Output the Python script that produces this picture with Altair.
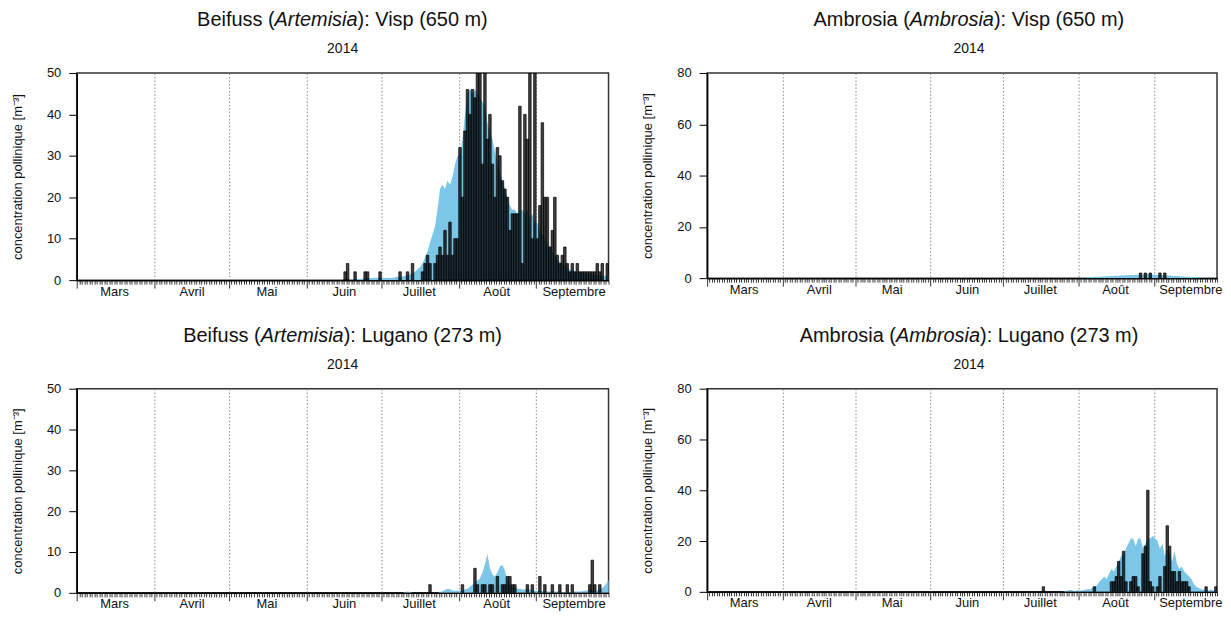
import altair as alt
import pandas as pd

# ---------------- data (daily values, 2014) ----------------
MONTHS_FR = ["Janvier", "Février", "Mars", "Avril", "Mai", "Juin", "Juillet",
             "Août", "Septembre", "Octobre", "Novembre", "Décembre"]
YEAR_LABEL = "2014"
Y_TITLE = "concentration pollinique [m⁻³]"

# Beifuss (Artemisia) Visp - observed daily values from 1 June
visp_art_bar_start = "2014-06-01"
visp_art_bar_jun = [0] * 15 + [2, 4, 0, 0, 2, 0, 0, 0, 2, 2, 0, 0, 0, 0, 2]
visp_art_bar_jul = [0, 0, 0, 0, 0, 0, 0, 2, 0, 0, 2, 0, 4, 0, 0, 0, 2, 4, 6, 4,
                    0, 4, 6, 8, 6, 12, 6, 14, 6, 10, 10]
visp_art_bar_aug = [32, 20, 36, 46, 40, 46, 44, 54, 54, 28, 54, 34, 40, 28, 20,
                    32, 30, 24, 22, 20, 12, 16, 16, 16, 42, 4, 40, 34, 54, 10, 54]
visp_art_bar_sep = [10, 18, 38, 20, 20, 8, 12, 20, 6, 4, 6, 8, 4, 2, 4,
                    2, 4, 2, 2, 2, 2, 2, 2, 2, 4, 2, 4, 0, 4, 4]
# Beifuss Visp - mean (blue) from 1 June
visp_art_mean_start = "2014-06-01"
visp_art_mean_jun = [0] * 18 + [0.2, 0.3, 0.3, 0.3, 0.4, 0.4, 0.5, 0.5, 0.5, 0.6, 0.6, 0.6]
visp_art_mean_jul = [0.6, 0.5, 0.6, 0.5, 0.6, 0.7, 0.8, 0.8, 0.9, 1.0, 1.2, 1.4, 1.6, 2.0,
                     2.6, 3.2, 4.0, 5.5, 7.0, 9.0, 11, 13, 17, 22, 23, 22, 24, 23, 25, 28, 30]
visp_art_mean_aug = [30, 34, 40, 45, 46, 45, 46, 45, 44, 43, 42, 38, 36, 34, 31, 28,
                     26, 24, 22, 20, 18, 17, 17, 16, 17, 17, 16, 17, 15, 16, 14]
visp_art_mean_sep = [14, 12, 11, 10, 9, 8, 7, 6, 5, 4.5, 4, 3.5, 3, 2.5, 2.5, 2, 2, 2,
                     1.8, 1.6, 1.5, 1.5, 1.4, 1.3, 1.2, 1.2, 1.0, 1.0, 1.2, 1.3]

# Beifuss (Artemisia) Lugano - observed from 1 July
lug_art_bar_start = "2014-07-01"
lug_art_bar_jul = [0] * 19 + [2] + [0] * 11
lug_art_bar_aug = [0, 2, 0, 0, 0, 0, 6, 2, 0, 2, 2, 0, 2, 2, 0, 4, 0, 2, 2, 4,
                   4, 2, 2, 0, 0, 0, 0, 2, 0, 2, 0]
lug_art_bar_sep = [0, 4, 0, 2, 0, 0, 2, 0, 0, 2, 0, 0, 2, 0, 2, 0, 0, 0, 0, 0,
                   0, 2, 8, 2, 0, 2, 0, 0, 0, 0]
lug_art_mean_start = "2014-07-01"
lug_art_mean_jul = [0, 0, 0, 0, 0, 0, 0, 0, 0, 0.2, 0.3, 0.2, 0, 0, 0, 0, 0, 0, 0, 0,
                    0, 0, 0, 0.2, 0.4, 0.7, 1.0, 0.9, 0.6, 0.5, 0.5]
lug_art_mean_aug = [0.5, 0.5, 0.8, 1.0, 1.5, 2.0, 2.5, 3.0, 3.5, 5.0, 7.0, 9.5, 6.0,
                    4.5, 4.0, 5.0, 6.5, 6.8, 5.5, 3.0, 2.0, 1.5, 1.2, 1.0, 1.0, 0.8,
                    0.8, 1.0, 0.8, 0.6, 0.5]
lug_art_mean_sep = [0.5, 0.5, 0.4, 0.4, 0.3, 0.3, 0.3, 0.3, 0.3, 0.3, 0.2, 0.2, 0.2,
                    0.2, 0.2, 0.3, 0.3, 0.3, 0.4, 0.5, 0.6, 0.7, 0.6, 0.5, 0.6, 0.8,
                    1.2, 1.8, 2.6, 3.4]

# Ambrosia Visp - observed from 1 August
visp_amb_bar_start = "2014-08-01"
visp_amb_bar_aug = [0] * 25 + [2, 0, 2, 0, 2, 0]
visp_amb_bar_sep = [0, 0, 2, 0, 2] + [0] * 25
visp_amb_mean_start = "2014-08-01"
visp_amb_mean_aug = [0.2, 0.2, 0.3, 0.3, 0.4, 0.4, 0.5, 0.5, 0.5, 0.6, 0.6, 0.7, 0.7,
                     0.8, 0.8, 0.9, 0.9, 1.0, 1.0, 1.1, 1.1, 1.2, 1.2, 1.3, 1.3, 1.4,
                     1.4, 1.5, 1.5, 1.4, 1.4]
visp_amb_mean_sep = [1.3, 1.3, 1.2, 1.2, 1.1, 1.0, 1.0, 0.9, 0.8, 0.8, 0.7, 0.6, 0.6,
                     0.5, 0.5, 0.4, 0.4, 0.3, 0.3, 0.2, 0.2, 0.1, 0.1, 0.1, 0, 0, 0, 0, 0, 0]

# Ambrosia Lugano - observed from 1 July
lug_amb_bar_start = "2014-07-01"
lug_amb_bar_jul = [0] * 16 + [2] + [0] * 14
lug_amb_bar_aug = [0, 0, 0, 0, 0, 0, 2, 0, 0, 0, 0, 0, 0, 4, 4, 6, 12, 6, 16, 4,
                   0, 4, 6, 6, 2, 0, 15, 18, 40, 4, 2]
lug_amb_bar_sep = [0, 2, 6, 0, 10, 26, 18, 8, 8, 4, 8, 4, 4, 4, 2, 0, 0, 0, 0, 0,
                   0, 2, 0, 0, 0, 2, 0, 0, 0, 0]
lug_amb_mean_start = "2014-07-01"
lug_amb_mean_jul = [0] * 25 + [0.3, 0.5, 0.8, 0.5, 0.3, 0.5]
lug_amb_mean_aug = [0.5, 0.5, 0.8, 1, 1, 1.5, 2, 2.5, 4, 5, 6, 5, 7, 9, 8, 10, 12,
                    14, 15, 17, 19, 21, 21, 18, 21, 21, 17, 19, 21, 21, 22]
lug_amb_mean_sep = [21, 20, 17, 19, 14, 17, 15, 12, 16, 11, 9, 10, 8, 7, 6, 5, 3, 2,
                    1.5, 1, 0.8, 1, 0.5, 1, 0.5, 0.5, 0.3, 0.3, 0.2, 0.2]

# ---------------- styling helpers ----------------
FONT = "Liberation Sans"
BLUE = "#7cc6e8"
TXT = "#111111"
ARIAL_W = {"A": 667, "B": 667, "L": 556, "V": 667, "a": 556, "b": 556, "e": 556,
           "f": 278, "g": 556, "i": 222, "m": 833, "n": 556, "o": 556, "p": 556,
           "r": 333, "s": 500, "t": 278, "u": 556, "(": 333, ")": 333, ":": 278,
           " ": 278}


def text_width(s, size):
    return sum(ARIAL_W.get(ch, 556) for ch in s) * size / 1000.0


MONTH_EXPR = ("date(datum.value) == 16 ? ["
              + ",".join("'" + m + "'" for m in MONTHS_FR)
              + "][month(datum.value)] : ''")


def daily(start, values, shift_hours=0):
    dates = pd.date_range(start, periods=len(values), freq="D") + pd.Timedelta(hours=shift_hours)
    return pd.DataFrame({"date": dates, "value": values})


def text_layer(s, x, y, size, align="center", style="normal"):
    return alt.Chart(pd.DataFrame({"t": [s]})).mark_text(
        font=FONT, fontSize=size, align=align, baseline="middle",
        fontStyle=style, color=TXT
    ).encode(text="t:N", x=alt.value(x), y=alt.value(y))


def panel(species, latin, site, bar_start, bars, mean_start, mean, ymax, ystep,
          width, height, end_day, title_cx):
    bdf = daily(bar_start, bars)
    bdf["end"] = bdf["date"] + pd.Timedelta(days=1)
    bdf["base"] = 0
    bdf = bdf[bdf["value"] > 0]
    adf = daily(mean_start, mean, 12)

    x_axis = alt.Axis(
        tickCount={"interval": "day", "step": 1},
        tickSize={"condition": {"test": "date(datum.value) == 1", "value": 8}, "value": 4},
        tickColor="black", tickWidth=0.8,
        domainColor="black", domainWidth=1.5,
        grid=True, gridColor="#888888", gridDash=[1.5, 2], gridWidth=1,
        gridOpacity={"condition": {"test": "date(datum.value) == 1", "value": 1}, "value": 0},
        labelExpr=MONTH_EXPR, labelOverlap=False, labelFlush=False,
        labelFont=FONT, labelFontSize=13, labelColor=TXT, labelPadding=1,
        title=None)
    y_axis = alt.Axis(
        values=list(range(0, ymax + 1, ystep)), tickSize=8, tickColor="black",
        tickWidth=1, domainColor="black", domainWidth=1.5, grid=False,
        labelFont=FONT, labelFontSize=13, labelColor=TXT, labelPadding=8,
        title=Y_TITLE, titleFont=FONT, titleFontSize=13, titleFontWeight="normal",
        titleColor=TXT, titlePadding=22)
    xs = alt.Scale(domain=[alt.DateTime(year=2014, month=3, date=1),
                           alt.DateTime(year=2014, month=9, date=end_day)])
    ys = alt.Scale(domain=[0, ymax], nice=False)

    area_l = alt.Chart(adf).mark_area(color=BLUE, clip=True, interpolate="linear").encode(
        x=alt.X("date:T", scale=xs, axis=x_axis),
        y=alt.Y("value:Q", scale=ys, axis=y_axis, stack=None))
    bar_l = alt.Chart(bdf).mark_bar(
        color="black", fillOpacity=0.75, stroke="black", strokeWidth=0.7, clip=True
    ).encode(x="date:T", x2="end:T", y=alt.Y("value:Q", stack=None), y2="base:Q")

    size = 20
    p1 = species + " ("
    p3 = "): " + site
    total = text_width(p1, size) + text_width(latin, size) + text_width(p3, size)
    xa = title_cx - total / 2 + text_width(p1, size)
    xb = xa + text_width(latin, size)
    layers = [
        area_l, bar_l,
        text_layer(p1, xa, -53, size, align="right"),
        text_layer(latin, xa, -53, size, align="left", style="italic"),
        text_layer(p3, xb, -53, size, align="left"),
        text_layer(YEAR_LABEL, title_cx, -24, 14),
    ]
    return alt.layer(*layers).properties(width=width, height=height)


tl = panel("Beifuss", "Artemisia", "Visp (650 m)", visp_art_bar_start,
           visp_art_bar_jun + visp_art_bar_jul + visp_art_bar_aug + visp_art_bar_sep,
           visp_art_mean_start,
           visp_art_mean_jun + visp_art_mean_jul + visp_art_mean_aug + visp_art_mean_sep,
           50, 10, 534, 208, 30, 267)
bl = panel("Beifuss", "Artemisia", "Lugano (273 m)", lug_art_bar_start,
           lug_art_bar_jul + lug_art_bar_aug + lug_art_bar_sep,
           lug_art_mean_start, lug_art_mean_jul + lug_art_mean_aug + lug_art_mean_sep,
           50, 10, 534, 205, 30, 267)
tr = panel("Ambrosia", "Ambrosia", "Visp (650 m)", visp_amb_bar_start,
           visp_amb_bar_aug + visp_amb_bar_sep,
           visp_amb_mean_start, visp_amb_mean_aug + visp_amb_mean_sep,
           80, 20, 512, 206, 27, 263)
br = panel("Ambrosia", "Ambrosia", "Lugano (273 m)", lug_amb_bar_start,
           lug_amb_bar_jul + lug_amb_bar_aug + lug_amb_bar_sep,
           lug_amb_mean_start, lug_amb_mean_jul + lug_amb_mean_aug + lug_amb_mean_sep,
           80, 20, 512, 204, 27, 263)

chart = alt.hconcat(
    alt.vconcat(tl, bl, spacing=22),
    alt.vconcat(tr, br, spacing=24),
    spacing=30,
).properties(
    padding={"left": 2, "top": 0, "right": 0, "bottom": 0},
    background="white",
).configure_view(stroke="#333333", strokeWidth=1.5)

chart.save("out.html", embed_options={"renderer": "svg", "actions": False})
